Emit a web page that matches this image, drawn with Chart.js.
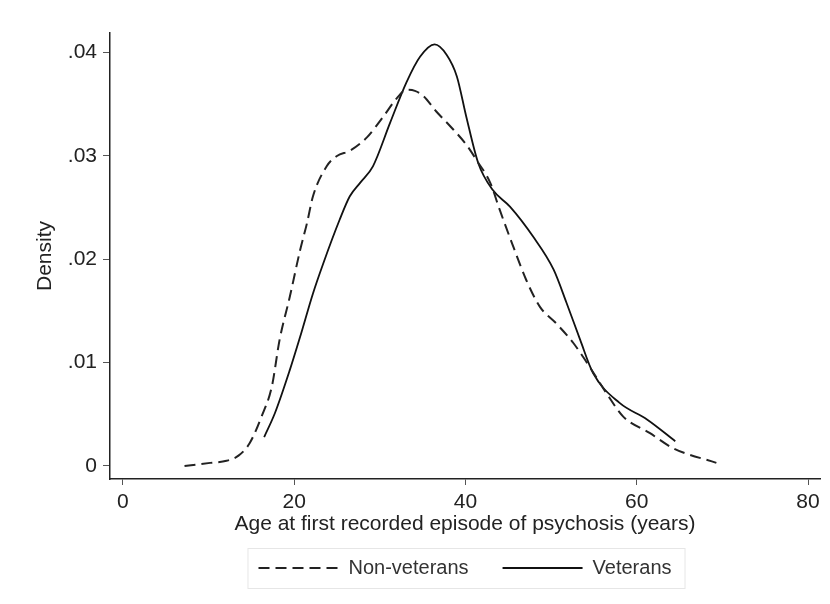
<!DOCTYPE html>
<html>
<head>
<meta charset="utf-8">
<script src="https://cdn.jsdelivr.net/npm/chart.js@4/dist/chart.umd.min.js"></script>
<style>
  body { margin: 0; background: #fff; }
  #wrap { width: 830px; height: 604px; }
</style>
</head>
<body>
<div id="wrap"><canvas id="density-chart" width="830" height="604"></canvas></div>
<script>
// Kernel density of age at first psychosis episode
const nonVetAge = [7.2, 10.2, 12.1, 13.5, 14.8, 16.2, 17.4, 18.3, 19.5, 20.7, 21.5, 22.2, 23.8, 25.0, 26.5, 28.5, 30.4, 32.0, 33.1, 34.1, 35.1, 36.6, 38.2, 40.1, 41.3, 42.9, 44.0, 45.6, 47.1, 48.7, 50.6, 52.6, 54.5, 56.5, 58.4, 61.5, 64.3, 69.3];
const nonVetDensity = [0.0000, 0.0003, 0.0005, 0.0010, 0.0022, 0.0048, 0.0077, 0.0122, 0.0164, 0.0209, 0.0235, 0.0261, 0.0290, 0.0300, 0.0305, 0.0318, 0.0338, 0.0356, 0.0364, 0.0363, 0.0358, 0.0343, 0.0329, 0.0311, 0.0296, 0.0274, 0.0248, 0.0212, 0.0180, 0.0154, 0.0138, 0.0119, 0.0096, 0.0070, 0.0048, 0.0032, 0.0017, 0.0003];

const vetAge = [16.5, 17.75, 19.5, 20.7, 22.2, 23.4, 25.3, 26.5, 27.7, 29.2, 31.2, 33.1, 34.7, 36.4, 37.8, 39.0, 40.1, 41.5, 43.2, 45.2, 47.9, 50.3, 51.8, 53.4, 54.9, 58.0, 61.2, 64.5];
const vetDensity = [0.0028, 0.0051, 0.0093, 0.0125, 0.0167, 0.0196, 0.0238, 0.0261, 0.0274, 0.0290, 0.0332, 0.0371, 0.0396, 0.0408, 0.0398, 0.0377, 0.0338, 0.0293, 0.0267, 0.0251, 0.0222, 0.0190, 0.0158, 0.0122, 0.0090, 0.0061, 0.0045, 0.0024];

const xTicks = [0, 20, 40, 60, 80];
const yTicks = [0, 0.01, 0.02, 0.03, 0.04];
const yTickLabels = ['0', '.01', '.02', '.03', '.04'];

const FONT = '"Liberation Sans", Arial, sans-serif';

function toPoints(xs, ys) {
    return xs.map((x, i) => ({ x: x, y: ys[i] }));
}

// light frame round the legend, as Stata draws it
const legendFrame = {
    id: 'legendFrame',
    afterDraw(chart) {
        const boxes = chart.legend && chart.legend.legendHitBoxes;
        if (!boxes || !boxes.length) return;
        const left = Math.min(...boxes.map(b => b.left)) - 11;
        const right = Math.max(...boxes.map(b => b.left + b.width)) + 13;
        const top = boxes[0].top - 10;
        const bottom = boxes[0].top + boxes[0].height + 10;
        const ctx = chart.ctx;
        ctx.save();
        ctx.strokeStyle = '#e6e6e6';
        ctx.lineWidth = 1;
        ctx.strokeRect(left + 0.5, top + 0.5, right - left, bottom - top);
        ctx.restore();
    }
};

const ctx = document.getElementById('density-chart');
new Chart(ctx, {
    type: 'line',
    data: {
        datasets: [
            {
                label: 'Non-veterans',
                data: toPoints(nonVetAge, nonVetDensity),
                borderColor: '#222',
                backgroundColor: '#222',
                borderWidth: 2,
                borderDash: [11, 6],
                pointRadius: 0,
                cubicInterpolationMode: 'monotone',
                fill: false
            },
            {
                label: 'Veterans',
                data: toPoints(vetAge, vetDensity),
                borderColor: '#111',
                backgroundColor: '#111',
                borderWidth: 1.8,
                pointRadius: 0,
                cubicInterpolationMode: 'monotone',
                fill: false
            }
        ]
    },
    options: {
        responsive: false,
        animation: false,
        layout: { padding: { left: 0, right: 10, top: 33, bottom: 16 } },
        plugins: {
            tooltip: { enabled: false },
            legend: {
                position: 'bottom',
                fullSize: false,
                align: 'center',
                labels: {
                    font: { family: FONT, size: 20 },
                    color: '#333',
                    usePointStyle: true,
                    pointStyle: 'line',
                    pointStyleWidth: 80,
                    boxHeight: 20,
                    padding: 34,
                    generateLabels: chart => {
                        const items = Chart.defaults.plugins.legend.labels.generateLabels(chart);
                        items.forEach(item => {
                            const ds = chart.data.datasets[item.datasetIndex];
                            item.lineDash = ds.borderDash || [];
                            item.lineWidth = ds.borderWidth;
                            item.strokeStyle = ds.borderColor;
                        });
                        return items;
                    }
                }
            }
        },
        scales: {
            x: {
                type: 'linear',
                min: -1.5,
                max: 81.4,
                afterBuildTicks: axis => { axis.ticks = xTicks.map(v => ({ value: v })); },
                afterFit: axis => { axis.height = 45; },
                border: { display: true, color: '#222', width: 1.5 },
                grid: { display: true, drawOnChartArea: false, drawTicks: true, tickLength: 6, color: '#555' },
                ticks: {
                    font: { family: FONT, size: 21 },
                    color: '#222',
                    padding: 5,
                    maxRotation: 0
                },
                title: {
                    display: true,
                    text: 'Age at first recorded episode of psychosis (years)',
                    font: { family: FONT, size: 21 },
                    color: '#222',
                    padding: { top: 0, bottom: -12.6 }
                }
            },
            y: {
                type: 'linear',
                min: -0.00126,
                max: 0.0419,
                afterBuildTicks: axis => { axis.ticks = yTicks.map(v => ({ value: v })); },
                afterFit: axis => { axis.width = 110; },
                border: { display: true, color: '#222', width: 1.5 },
                grid: { display: true, drawOnChartArea: false, drawTicks: true, tickLength: 7, color: '#555' },
                ticks: {
                    font: { family: FONT, size: 21 },
                    color: '#222',
                    padding: 6,
                    callback: (value, index) => yTickLabels[index]
                },
                title: {
                    display: true,
                    text: 'Density',
                    font: { family: FONT, size: 21 },
                    color: '#222',
                    padding: { top: 33, bottom: 0 }
                }
            }
        }
    },
    plugins: [legendFrame]
});
</script>
</body>
</html>
